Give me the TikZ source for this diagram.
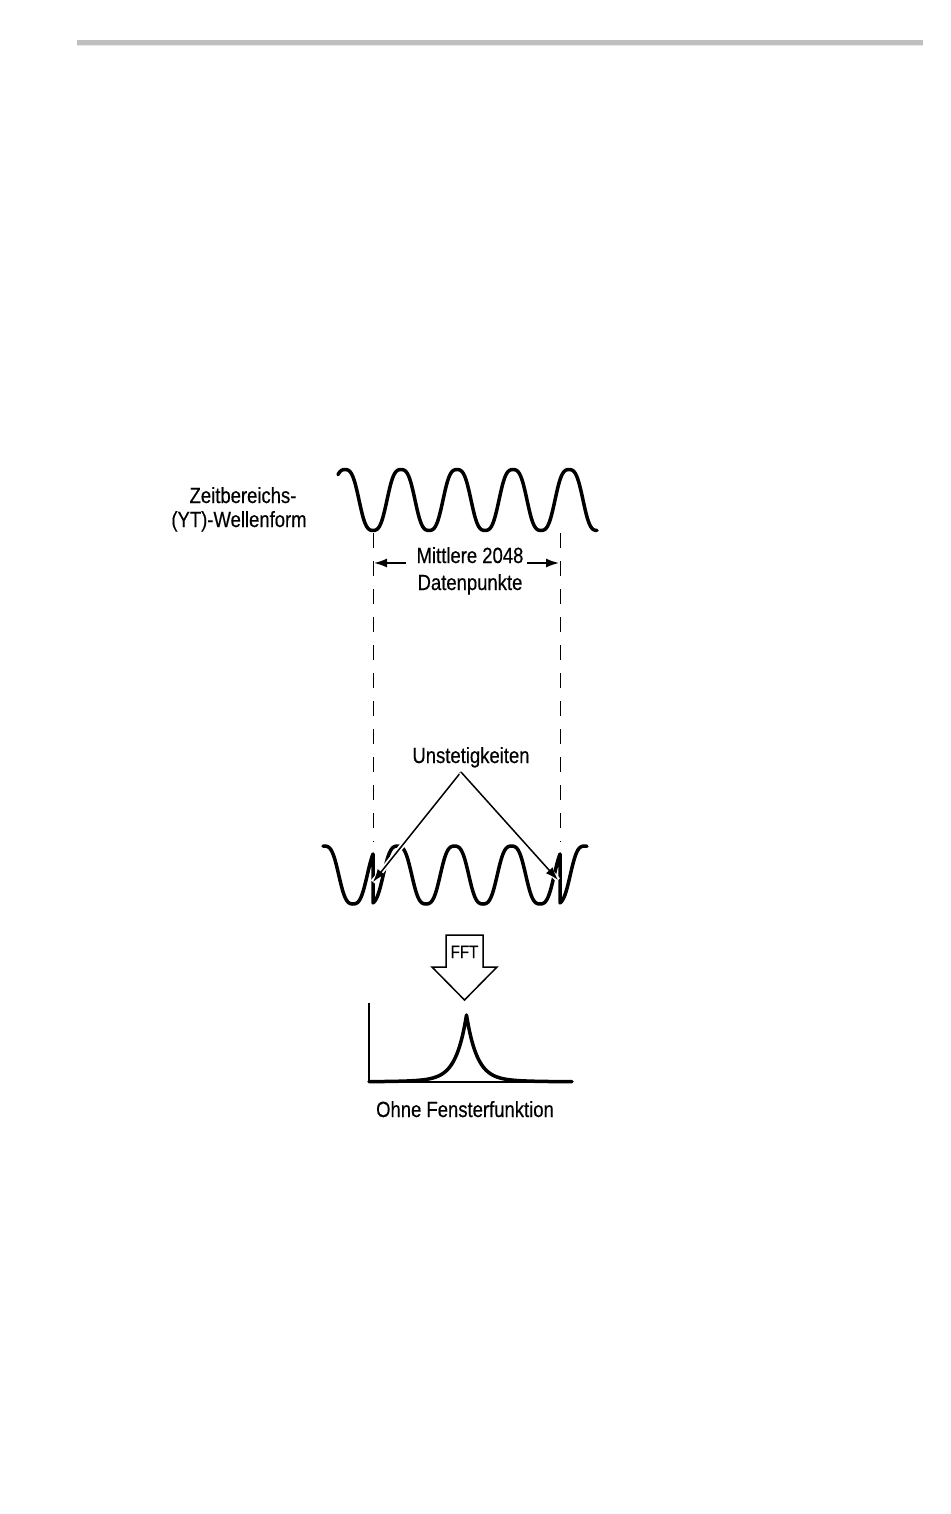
\documentclass[tikz,border=0pt]{standalone}
\usepackage{fontspec}
\setmainfont{Liberation Sans}[FakeStretch=0.84,FakeBold=0.4]
\usetikzlibrary{arrows.meta}
\definecolor{bargray}{HTML}{BFBFBF}
\definecolor{barlight}{HTML}{E8E8E8}
\begin{document}
\begin{tikzpicture}[x=0.5pt,y=-0.5pt,
  declare function={wf(\t)=(cos(\t)-0.08*cos(3*\t))/0.92;},
  wave/.style={line width=1.75pt,line join=round,line cap=round},
  thinline/.style={line width=0.75pt},
  guide/.style={line width=0.5pt,dash pattern=on 7.5pt off 6.5pt},
  tipend/.style={-{Latex[length=6.5pt,width=4.5pt]}},
  halo/.style={preaction={draw=white,line width=2.6pt,arrows=-}},
  lbl/.style={font=\fontsize{11}{13}\selectfont,inner sep=0pt,anchor=base},
  fftlbl/.style={font=\fontsize{9}{10}\selectfont,inner sep=0pt,anchor=base}]
\useasboundingbox (0,0) rectangle (950,1514);
% header bar
\fill[bargray] (77,40) rectangle (923,45);
\fill[barlight] (77,45) rectangle (923,46.5);
% labels
\node[lbl] (zb1) at (243,503) {Zeitbereichs-};
\node[lbl] (zb2) at (239,527) {(YT)-Wellenform};
\node[lbl] (m1) at (470,563) {Mittlere 2048};
\node[lbl] (m2) at (470,590) {Datenpunkte};
\node[lbl] (un) at (471,763) {Unstetigkeiten};
\node[lbl] (ohne) at (465,1117) {Ohne Fensterfunktion};
% guide lines
\coordinate (gl1) at (373,533);
\coordinate (gl2) at (373,842);
\coordinate (gr1) at (560,533);
\coordinate (gr2) at (560,842);
\draw[guide] (gl1) -- (gl2);
\draw[guide] (gr1) -- (gr2);
% top waveform
\draw[wave] plot[domain=338:597,samples=240] (\x,{500-30.5*wf(6.428571*(\x-345))});
% dimension arrows
\coordinate (dla) at (406,563);
\coordinate (dlb) at (374,563);
\coordinate (dra) at (527,563);
\coordinate (drb) at (559,563);
\draw[thinline,tipend] (dla) -- (dlb);
\draw[thinline,tipend] (dra) -- (drb);
% bottom (repeated) waveform with discontinuities
\draw[wave] plot[domain=323:373,samples=60] (\x,{875+29*wf(6.315789*(\x-353))})
  -- plot[domain=373:560,samples=220] (\x,{875+29*wf(6.315789*(\x-540))})
  -- plot[domain=560:587,samples=40] (\x,{875+29*wf(6.315789*(\x-727))});
% discontinuity arrows
\coordinate (apex) at (461,772);
\coordinate (tl) at (373,882);
\coordinate (tr) at (558,880);
\draw[thinline,tipend,halo] (apex) -- (tl);
\draw[thinline,tipend,halo] (apex) -- (tr);
% FFT block arrow
\draw[thinline,line join=miter] (446,935) -- (483,935) -- (483,967) -- (497,967)
  -- (464.5,1000) -- (432,967) -- (446,967) -- cycle;
\node[fftlbl] (fft) at (464.5,958) {FFT};
% spectrum
\coordinate (ax0) at (369,1003);
\coordinate (ax1) at (369,1082);
\coordinate (ax2) at (572,1082);
\draw[thinline] (ax0) -- (ax1) -- (ax2);
\draw[wave] plot[domain=369:572,samples=407] (\x,{1082-64*exp(-abs(\x-466.5)/10.5)-3*exp(-abs(\x-466.5)/45)});
\end{tikzpicture}
\end{document}
